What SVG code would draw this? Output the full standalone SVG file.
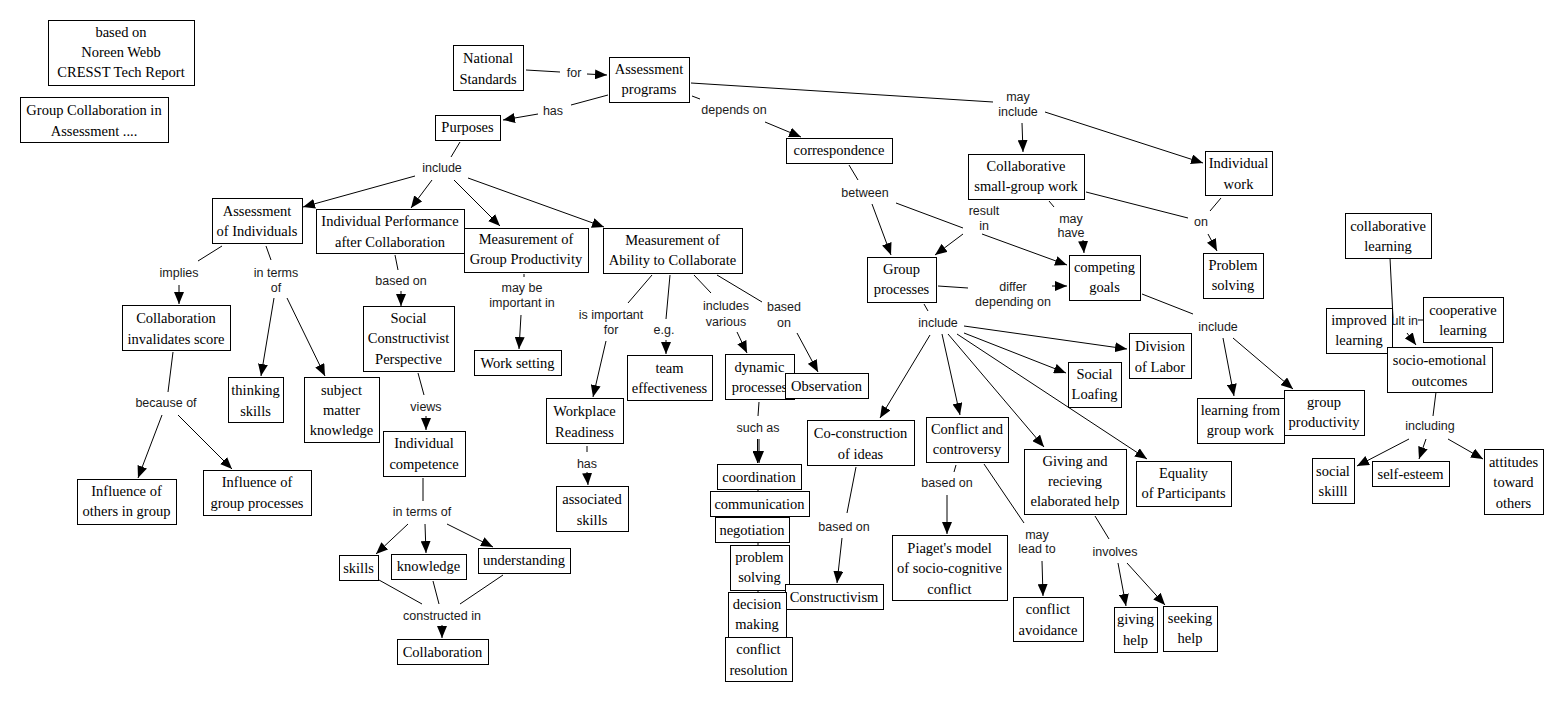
<svg xmlns="http://www.w3.org/2000/svg" width="1563" height="701" viewBox="0 0 1563 701">
<style>
.box{fill:#fff;stroke:#000;stroke-width:1}
.nt{font-family:'Liberation Serif','DejaVu Serif','Times New Roman',serif;font-size:14.5px;text-anchor:middle;fill:#000}
.lt{font-family:'Liberation Sans',Arial,sans-serif;font-size:12.5px;text-anchor:middle;fill:#1a1a1a}
.c{stroke:#000;stroke-width:1;fill:none}
.a{stroke:#000;stroke-width:1;fill:none;marker-end:url(#ah)}
</style>
<defs>
<marker id="ah" markerUnits="userSpaceOnUse" markerWidth="12" markerHeight="10" refX="12" refY="5" orient="auto">
<path d="M0,0 L12,5 L0,10 z" fill="#000"/>
</marker>
</defs>
<rect width="1563" height="701" fill="#fff"/>
<g id="connectors">
<line class="c" x1="526" y1="70" x2="560" y2="72"/>
<line class="a" x1="587" y1="74" x2="607" y2="75"/>
<line class="c" x1="608" y1="95" x2="571" y2="105"/>
<line class="a" x1="538" y1="114" x2="503" y2="120"/>
<line class="c" x1="692" y1="96" x2="700" y2="99"/>
<line class="a" x1="765" y1="122" x2="801" y2="137"/>
<line class="c" x1="691" y1="83" x2="993" y2="102"/>
<line class="a" x1="1022" y1="123" x2="1023" y2="152"/>
<line class="a" x1="1045" y1="112" x2="1203" y2="163"/>
<line class="c" x1="460" y1="142" x2="451" y2="157"/>
<line class="a" x1="415" y1="176" x2="303" y2="207"/>
<line class="a" x1="432" y1="180" x2="411" y2="208"/>
<line class="a" x1="454" y1="180" x2="500" y2="226"/>
<line class="a" x1="468" y1="178" x2="604" y2="227"/>
<line class="c" x1="849" y1="165" x2="858" y2="180"/>
<line class="a" x1="872" y1="204" x2="891" y2="255"/>
<line class="c" x1="896" y1="203" x2="963" y2="228"/>
<line class="a" x1="982" y1="234" x2="1067" y2="265"/>
<line class="a" x1="963" y1="234" x2="935" y2="255"/>
<line class="c" x1="1049" y1="201" x2="1054" y2="207"/>
<line class="a" x1="1083" y1="240" x2="1084" y2="253"/>
<line class="c" x1="1086" y1="192" x2="1188" y2="218"/>
<line class="c" x1="1221" y1="198" x2="1210" y2="211"/>
<line class="a" x1="1208" y1="234" x2="1217" y2="251"/>
<line class="c" x1="938" y1="286" x2="968" y2="288"/>
<line class="a" x1="1052" y1="286" x2="1067" y2="286"/>
<line class="c" x1="924" y1="304" x2="928" y2="311"/>
<line class="a" x1="964" y1="326" x2="1127" y2="349"/>
<line class="a" x1="964" y1="333" x2="1066" y2="373"/>
<line class="a" x1="957" y1="334" x2="1147" y2="459"/>
<line class="a" x1="948" y1="334" x2="1044" y2="447"/>
<line class="a" x1="942" y1="334" x2="960" y2="415"/>
<line class="a" x1="930" y1="335" x2="880" y2="418"/>
<line class="c" x1="1142" y1="294" x2="1193" y2="314"/>
<line class="a" x1="1223" y1="338" x2="1234" y2="396"/>
<line class="a" x1="1233" y1="338" x2="1293" y2="389"/>
<line class="c" x1="1390" y1="258" x2="1393" y2="318"/>
<line class="c" x1="1418" y1="320" x2="1423" y2="320"/>
<line class="a" x1="1407" y1="333" x2="1416" y2="345"/>
<line class="c" x1="1436" y1="392" x2="1433" y2="416"/>
<line class="a" x1="1409" y1="439" x2="1357" y2="466"/>
<line class="a" x1="1426" y1="439" x2="1419" y2="459"/>
<line class="a" x1="1448" y1="439" x2="1483" y2="459"/>
<line class="c" x1="222" y1="246" x2="198" y2="261"/>
<line class="a" x1="179" y1="285" x2="179" y2="304"/>
<line class="c" x1="266" y1="246" x2="271" y2="260"/>
<line class="a" x1="274" y1="298" x2="261" y2="376"/>
<line class="a" x1="287" y1="298" x2="325" y2="376"/>
<line class="c" x1="395" y1="255" x2="398" y2="270"/>
<line class="a" x1="401" y1="291" x2="401" y2="306"/>
<line class="c" x1="524" y1="274" x2="524" y2="277"/>
<line class="a" x1="521" y1="315" x2="519" y2="349"/>
<line class="c" x1="652" y1="275" x2="628" y2="303"/>
<line class="a" x1="606" y1="341" x2="593" y2="397"/>
<line class="c" x1="670" y1="275" x2="666" y2="319"/>
<line class="a" x1="666" y1="340" x2="666" y2="354"/>
<line class="c" x1="694" y1="275" x2="711" y2="293"/>
<line class="a" x1="737" y1="332" x2="747" y2="353"/>
<line class="c" x1="717" y1="275" x2="762" y2="302"/>
<line class="a" x1="797" y1="333" x2="818" y2="372"/>
<line class="c" x1="173" y1="352" x2="168" y2="392"/>
<line class="a" x1="162" y1="415" x2="138" y2="478"/>
<line class="a" x1="178" y1="415" x2="232" y2="469"/>
<line class="c" x1="418" y1="373" x2="424" y2="395"/>
<line class="a" x1="426" y1="416" x2="426" y2="430"/>
<line class="c" x1="423" y1="478" x2="423" y2="501"/>
<line class="a" x1="408" y1="524" x2="376" y2="554"/>
<line class="a" x1="425" y1="524" x2="426" y2="553"/>
<line class="a" x1="447" y1="524" x2="493" y2="547"/>
<line class="c" x1="379" y1="580" x2="422" y2="604"/>
<line class="c" x1="433" y1="581" x2="439" y2="604"/>
<line class="c" x1="503" y1="575" x2="460" y2="604"/>
<line class="a" x1="442" y1="625" x2="442" y2="638"/>
<line class="c" x1="587" y1="446" x2="587" y2="452"/>
<line class="a" x1="587" y1="472" x2="588" y2="485"/>
<line class="c" x1="759" y1="402" x2="758" y2="416"/>
<line class="a" x1="757.5" y1="439" x2="757.5" y2="463"/>
<line class="a" x1="759" y1="439" x2="759" y2="463"/>
<line class="c" x1="758" y1="489" x2="758" y2="637"/>
<line class="c" x1="856" y1="467" x2="847" y2="513"/>
<line class="a" x1="842" y1="538" x2="837" y2="583"/>
<line class="c" x1="956" y1="465" x2="954" y2="472"/>
<line class="a" x1="947" y1="495" x2="947" y2="534"/>
<line class="c" x1="984" y1="464" x2="1024" y2="523"/>
<line class="a" x1="1042" y1="561" x2="1043" y2="596"/>
<line class="c" x1="1095" y1="516" x2="1109" y2="539"/>
<line class="a" x1="1118" y1="563" x2="1126" y2="606"/>
<line class="a" x1="1127" y1="563" x2="1165" y2="605"/>
</g>
<g id="link-labels">
<text class="lt" x="574" y="76.5">for</text>
<text class="lt" x="553" y="114.5">has</text>
<text class="lt" x="734" y="113.5">depends on</text>
<text class="lt" x="1018" y="100.5">may</text>
<text class="lt" x="1018" y="115.5">include</text>
<text class="lt" x="442" y="171.5">include</text>
<text class="lt" x="865" y="196.5">between</text>
<text class="lt" x="984" y="214.5">result</text>
<text class="lt" x="984" y="229.5">in</text>
<text class="lt" x="1071" y="222.5">may</text>
<text class="lt" x="1071" y="236.5">have</text>
<text class="lt" x="1201" y="225.5">on</text>
<text class="lt" x="179" y="276.5">implies</text>
<text class="lt" x="276" y="276.5">in terms</text>
<text class="lt" x="276" y="291.5">of</text>
<text class="lt" x="401" y="284.5">based on</text>
<text class="lt" x="522" y="291.5">may be</text>
<text class="lt" x="522" y="306.5">important in</text>
<text class="lt" x="611" y="318.5">is important</text>
<text class="lt" x="611" y="333.5">for</text>
<text class="lt" x="664" y="333.5">e.g.</text>
<text class="lt" x="726" y="309.5">includes</text>
<text class="lt" x="726" y="325.5">various</text>
<text class="lt" x="784" y="310.5">based</text>
<text class="lt" x="784" y="326.5">on</text>
<text class="lt" x="1013" y="290.5">differ</text>
<text class="lt" x="1013" y="305.5">depending on</text>
<text class="lt" x="938" y="326.5">include</text>
<text class="lt" x="1218" y="330.5">include</text>
<text class="lt" x="1396" y="324.5">result in</text>
<text class="lt" x="166" y="406.5">because of</text>
<text class="lt" x="426" y="410.5">views</text>
<text class="lt" x="422" y="515.5">in terms of</text>
<text class="lt" x="442" y="619.5">constructed in</text>
<text class="lt" x="587" y="467.5">has</text>
<text class="lt" x="758" y="431.5">such as</text>
<text class="lt" x="844" y="530.5">based on</text>
<text class="lt" x="947" y="486.5">based on</text>
<text class="lt" x="1037" y="538.5">may</text>
<text class="lt" x="1037" y="552.5">lead to</text>
<text class="lt" x="1115" y="555.5">involves</text>
<text class="lt" x="1430" y="429.5">including</text>
</g>
<g id="n-note1"><rect class="box" x="48.5" y="20.5" width="146" height="65"/><text class="nt" x="121" y="37">based on</text><text class="nt" x="121" y="57">Noreen Webb</text><text class="nt" x="121" y="77">CRESST Tech Report</text></g>
<g id="n-note2"><rect class="box" x="20.5" y="97.5" width="148" height="45"/><text class="nt" x="94" y="115">Group Collaboration in</text><text class="nt" x="94" y="136">Assessment ....</text></g>
<g id="n-national"><rect class="box" x="453.5" y="45.5" width="70" height="45"/><text class="nt" x="488" y="63">National</text><text class="nt" x="488" y="84">Standards</text></g>
<g id="n-assessment-programs"><rect class="box" x="609.5" y="57.5" width="80" height="45"/><text class="nt" x="649" y="74">Assessment</text><text class="nt" x="649" y="94">programs</text></g>
<g id="n-purposes"><rect class="box" x="435.5" y="115.5" width="65" height="25"/><text class="nt" x="467.5" y="132">Purposes</text></g>
<g id="n-correspondence"><rect class="box" x="786.5" y="138.5" width="106" height="25"/><text class="nt" x="839" y="155">correspondence</text></g>
<g id="n-collab-small-group"><rect class="box" x="968.5" y="154.5" width="116" height="45"/><text class="nt" x="1026" y="171">Collaborative</text><text class="nt" x="1026" y="191">small-group work</text></g>
<g id="n-individual-work"><rect class="box" x="1205.5" y="151.5" width="67" height="44"/><text class="nt" x="1238.5" y="168">Individual</text><text class="nt" x="1238.5" y="189">work</text></g>
<g id="n-assess-indiv"><rect class="box" x="212.5" y="198.5" width="90" height="45"/><text class="nt" x="257" y="216">Assessment</text><text class="nt" x="257" y="236">of Individuals</text></g>
<g id="n-indiv-perf"><rect class="box" x="316.5" y="209.5" width="148" height="44"/><text class="nt" x="390" y="226">Individual Performance</text><text class="nt" x="390" y="247">after Collaboration</text></g>
<g id="n-group-prod"><rect class="box" x="464.5" y="228.5" width="124" height="44"/><text class="nt" x="526" y="244">Measurement of</text><text class="nt" x="526" y="264">Group Productivity</text></g>
<g id="n-ability"><rect class="box" x="603.5" y="228.5" width="139" height="45"/><text class="nt" x="672.5" y="245">Measurement of</text><text class="nt" x="672.5" y="265">Ability to Collaborate</text></g>
<g id="n-group-processes"><rect class="box" x="867.5" y="257.5" width="69" height="45"/><text class="nt" x="901.5" y="274">Group</text><text class="nt" x="901.5" y="294">processes</text></g>
<g id="n-competing-goals"><rect class="box" x="1069.5" y="255.5" width="71" height="45"/><text class="nt" x="1104.5" y="272">competing</text><text class="nt" x="1104.5" y="292">goals</text></g>
<g id="n-problem-solving-1"><rect class="box" x="1203.5" y="253.5" width="60" height="45"/><text class="nt" x="1233" y="270">Problem</text><text class="nt" x="1233" y="290">solving</text></g>
<g id="n-collab-learning"><rect class="box" x="1345.5" y="213.5" width="86" height="45"/><text class="nt" x="1388" y="231">collaborative</text><text class="nt" x="1388" y="251">learning</text></g>
<g id="n-collab-invalidates"><rect class="box" x="122.5" y="305.5" width="108" height="45"/><text class="nt" x="176" y="323">Collaboration</text><text class="nt" x="176" y="344">invalidates score</text></g>
<g id="n-social-constr"><rect class="box" x="363.5" y="306.5" width="91" height="65"/><text class="nt" x="408.5" y="323">Social</text><text class="nt" x="408.5" y="343">Constructivist</text><text class="nt" x="408.5" y="364">Perspective</text></g>
<g id="n-work-setting"><rect class="box" x="474.5" y="350.5" width="87" height="25"/><text class="nt" x="517.5" y="368">Work setting</text></g>
<g id="n-team-eff"><rect class="box" x="627.5" y="355.5" width="85" height="45"/><text class="nt" x="669.5" y="373">team</text><text class="nt" x="669.5" y="393">effectiveness</text></g>
<g id="n-dynamic"><rect class="box" x="725.5" y="354.5" width="69" height="45"/><text class="nt" x="759.5" y="372">dynamic</text><text class="nt" x="759.5" y="392">processes</text></g>
<g id="n-observation"><rect class="box" x="785.5" y="373.5" width="83" height="25"/><text class="nt" x="826.5" y="391">Observation</text></g>
<g id="n-division"><rect class="box" x="1129.5" y="333.5" width="62" height="45"/><text class="nt" x="1160" y="351">Division</text><text class="nt" x="1160" y="372">of Labor</text></g>
<g id="n-social-loafing"><rect class="box" x="1068.5" y="362.5" width="53" height="45"/><text class="nt" x="1094.5" y="379">Social</text><text class="nt" x="1094.5" y="399">Loafing</text></g>
<g id="n-improved"><rect class="box" x="1326.5" y="308.5" width="66" height="45"/><text class="nt" x="1359" y="325">improved</text><text class="nt" x="1359" y="345">learning</text></g>
<g id="n-cooperative"><rect class="box" x="1423.5" y="297.5" width="80" height="45"/><text class="nt" x="1463" y="315">cooperative</text><text class="nt" x="1463" y="335">learning</text></g>
<g id="n-socio-emo"><rect class="box" x="1387.5" y="347.5" width="105" height="45"/><text class="nt" x="1439.5" y="365">socio-emotional</text><text class="nt" x="1439.5" y="386">outcomes</text></g>
<g id="n-thinking"><rect class="box" x="228.5" y="377.5" width="55" height="45"/><text class="nt" x="255.5" y="395">thinking</text><text class="nt" x="255.5" y="416">skills</text></g>
<g id="n-subject"><rect class="box" x="304.5" y="377.5" width="75" height="65"/><text class="nt" x="341.5" y="395">subject</text><text class="nt" x="341.5" y="415">matter</text><text class="nt" x="341.5" y="435">knowledge</text></g>
<g id="n-workplace"><rect class="box" x="546.5" y="398.5" width="77" height="45"/><text class="nt" x="584.5" y="416">Workplace</text><text class="nt" x="584.5" y="437">Readiness</text></g>
<g id="n-coconstruction"><rect class="box" x="807.5" y="420.5" width="107" height="45"/><text class="nt" x="860.5" y="438">Co-construction</text><text class="nt" x="860.5" y="459">of ideas</text></g>
<g id="n-conflict-contro"><rect class="box" x="926.5" y="417.5" width="82" height="45"/><text class="nt" x="967" y="434">Conflict and</text><text class="nt" x="967" y="454">controversy</text></g>
<g id="n-giving-receiving"><rect class="box" x="1024.5" y="449.5" width="102" height="65"/><text class="nt" x="1075" y="466">Giving and</text><text class="nt" x="1075" y="486">recieving</text><text class="nt" x="1075" y="506">elaborated help</text></g>
<g id="n-equality"><rect class="box" x="1136.5" y="461.5" width="95" height="45"/><text class="nt" x="1183.5" y="478">Equality</text><text class="nt" x="1183.5" y="498">of Participants</text></g>
<g id="n-learning-from"><rect class="box" x="1197.5" y="398.5" width="87" height="45"/><text class="nt" x="1240.5" y="415">learning from</text><text class="nt" x="1240.5" y="435">group work</text></g>
<g id="n-group-productivity"><rect class="box" x="1284.5" y="390.5" width="80" height="45"/><text class="nt" x="1324" y="407">group</text><text class="nt" x="1324" y="427">productivity</text></g>
<g id="n-social-skills"><rect class="box" x="1312.5" y="458.5" width="42" height="45"/><text class="nt" x="1333" y="476">social</text><text class="nt" x="1333" y="496">skilll</text></g>
<g id="n-self-esteem"><rect class="box" x="1372.5" y="461.5" width="77" height="25"/><text class="nt" x="1410.5" y="479">self-esteem</text></g>
<g id="n-attitudes"><rect class="box" x="1484.5" y="449.5" width="59" height="65"/><text class="nt" x="1513.5" y="467">attitudes</text><text class="nt" x="1513.5" y="487">toward</text><text class="nt" x="1513.5" y="508">others</text></g>
<g id="n-infl-others"><rect class="box" x="77.5" y="479.5" width="99" height="45"/><text class="nt" x="126.5" y="496">Influence of</text><text class="nt" x="126.5" y="516">others in group</text></g>
<g id="n-infl-group"><rect class="box" x="203.5" y="470.5" width="108" height="45"/><text class="nt" x="257" y="487">Influence of</text><text class="nt" x="257" y="508">group processes</text></g>
<g id="n-indiv-comp"><rect class="box" x="383.5" y="431.5" width="82" height="45"/><text class="nt" x="424" y="448">Individual</text><text class="nt" x="424" y="469">competence</text></g>
<g id="n-skills"><rect class="box" x="339.5" y="555.5" width="39" height="25"/><text class="nt" x="358.5" y="573">skills</text></g>
<g id="n-knowledge"><rect class="box" x="391.5" y="554.5" width="75" height="25"/><text class="nt" x="428.5" y="571">knowledge</text></g>
<g id="n-understanding"><rect class="box" x="478.5" y="548.5" width="92" height="25"/><text class="nt" x="524" y="565">understanding</text></g>
<g id="n-collaboration"><rect class="box" x="397.5" y="639.5" width="91" height="25"/><text class="nt" x="442.5" y="657">Collaboration</text></g>
<g id="n-associated"><rect class="box" x="556.5" y="486.5" width="72" height="45"/><text class="nt" x="592" y="504">associated</text><text class="nt" x="592" y="525">skills</text></g>
<g id="n-coordination"><rect class="box" x="717.5" y="464.5" width="84" height="25"/><text class="nt" x="759" y="482">coordination</text></g>
<g id="n-communication"><rect class="box" x="710.5" y="491.5" width="99" height="25"/><text class="nt" x="759.5" y="509">communication</text></g>
<g id="n-negotiation"><rect class="box" x="715.5" y="517.5" width="74" height="25"/><text class="nt" x="752" y="535">negotiation</text></g>
<g id="n-problem-solving-2"><rect class="box" x="730.5" y="545.5" width="59" height="45"/><text class="nt" x="759.5" y="562">problem</text><text class="nt" x="759.5" y="582">solving</text></g>
<g id="n-constructivism"><rect class="box" x="785.5" y="584.5" width="98" height="25"/><text class="nt" x="834" y="602">Constructivism</text></g>
<g id="n-decision"><rect class="box" x="728.5" y="592.5" width="58" height="45"/><text class="nt" x="757" y="609">decision</text><text class="nt" x="757" y="629">making</text></g>
<g id="n-conflict-resolution"><rect class="box" x="725.5" y="637.5" width="67" height="44"/><text class="nt" x="758.5" y="654">conflict</text><text class="nt" x="758.5" y="675">resolution</text></g>
<g id="n-piaget"><rect class="box" x="892.5" y="535.5" width="115" height="65"/><text class="nt" x="949.5" y="553">Piaget's model</text><text class="nt" x="949.5" y="573">of socio-cognitive</text><text class="nt" x="949.5" y="594">conflict</text></g>
<g id="n-conflict-avoidance"><rect class="box" x="1013.5" y="597.5" width="70" height="44"/><text class="nt" x="1048" y="614">conflict</text><text class="nt" x="1048" y="635">avoidance</text></g>
<g id="n-giving-help"><rect class="box" x="1114.5" y="607.5" width="43" height="45"/><text class="nt" x="1135.5" y="624">giving</text><text class="nt" x="1135.5" y="645">help</text></g>
<g id="n-seeking-help"><rect class="box" x="1163.5" y="606.5" width="54" height="45"/><text class="nt" x="1190" y="623">seeking</text><text class="nt" x="1190" y="643">help</text></g>
</svg>
